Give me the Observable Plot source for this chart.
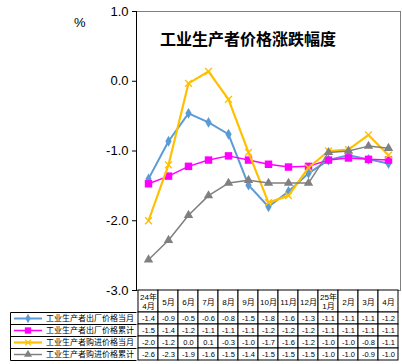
<!DOCTYPE html>
<html><head><meta charset="utf-8">
<script src="https://cdn.jsdelivr.net/npm/d3@7"></script>
<script src="https://cdn.jsdelivr.net/npm/@observablehq/plot@0.6"></script>
<style>
body{margin:0;background:#fff;}
#wrap{position:relative;width:402px;height:364px;overflow:hidden;background:#fff;font-family:"Liberation Sans",Arial,"Noto Sans CJK SC",sans-serif;}
#wrap > svg, #wrap > div{position:absolute;}
#title{left:160px;top:30px;font:bold 16px/16px "Noto Sans CJK SC",sans-serif;color:#000;white-space:nowrap;}
#pct{left:74px;top:16px;font:13px/13px "Liberation Sans",Arial,sans-serif;color:#000;}
</style></head><body><div id="wrap"></div>
<script>
// ---- data ----
const months = ["24年4月","5月","6月","7月","8月","9月","10月","11月","12月","25年1月","2月","3月","4月"];
const headerLabels = ["24年\n4月","5月","6月","7月","8月","9月","10月","11月","12月","25年\n1月","2月","3月","4月"];
const seriesNames = ["工业生产者出厂价格当月","工业生产者出厂价格累计","工业生产者购进价格当月","工业生产者购进价格累计"];
const ppiMonthly      = [-1.40,-0.86,-0.46,-0.59,-0.76,-1.49,-1.80,-1.58,-1.32,-1.13,-1.06,-1.12,-1.18];
const ppiCumulative   = [-1.47,-1.36,-1.22,-1.13,-1.07,-1.13,-1.19,-1.23,-1.22,-1.13,-1.10,-1.12,-1.13];
const ppirmMonthly    = [-2.00,-1.20,-0.03, 0.14,-0.26,-1.02,-1.74,-1.64,-1.24,-1.00,-0.98,-0.77,-1.06];
const ppirmCumulative = [-2.56,-2.28,-1.92,-1.64,-1.46,-1.42,-1.46,-1.46,-1.46,-1.02,-1.00,-0.93,-0.96];
const yTicks = [1,0,-1,-2,-3];
const titleText = "工业生产者价格涨跌幅度";
const unitText = "%";

// ---- styles ----
const colors = ["#5B9BD5","#FF00FF","#FFC000","#808080"];
const symbols = ["diamond","square","times","triangle"];
const widths = [2,1.5,2.2,1.5];
const radii = [3.3,4.2,3.2,3.5];

const values = [ppiMonthly, ppiCumulative, ppirmMonthly, ppirmCumulative];
const rows = seriesNames.flatMap((s,i)=>values[i].map((v,j)=>({series:s, idx:i, month:months[j], value:v})));
const fmt = v => { const s = v.toFixed(1); return s === "-0.0" ? "0.0" : s; };

const wrap = document.getElementById("wrap");

// ---- main chart ----
const seriesMarks = seriesNames.flatMap((s,i)=>{
  const d = rows.filter(r=>r.series===s);
  const sym = symbols[i];
  return [
    Plot.line(d,{x:"month",y:"value",stroke:colors[i],strokeWidth:widths[i]}),
    Plot.dot(d,{x:"month",y:"value",symbol:()=>sym,r:radii[i],
      fill: sym==="times" ? "none" : colors[i],
      stroke: colors[i], strokeWidth: sym==="times" ? 1.4 : 0})
  ];
});
const chart = Plot.plot({
  width:402, height:300, marginLeft:136, marginRight:2, marginTop:11, marginBottom:10,
  style:{fontFamily:"Liberation Sans, Arial, sans-serif", fontSize:"13px", background:"transparent", overflow:"visible", color:"#000"},
  x:{type:"point", domain:months, padding:0.5, axis:null},
  y:{domain:[-3,1], ticks:yTicks, tickFormat:d=>d.toFixed(1), tickSize:4, tickPadding:4, label:null},
  symbol:{type:"identity"},
  marks:[
    Plot.frame({stroke:"#808080"}),
    Plot.frame({anchor:"left", stroke:"#000"}),
    ...seriesMarks
  ]
});
chart.style.left="0px"; chart.style.top="0px";
wrap.appendChild(chart);

// ---- table header ----
const header = Plot.plot({
  width:266, height:23, marginLeft:0, marginRight:2, marginTop:0, marginBottom:1,
  style:{fontFamily:"Liberation Sans, Arial, Noto Sans CJK SC, sans-serif", fontSize:"8px", background:"transparent", overflow:"visible"},
  x:{type:"band", domain:months, padding:0, axis:null},
  marks:[
    Plot.cell(months,{x:d=>d, fill:"white", stroke:"#000"}),
    Plot.text(months,{x:d=>d, text:(d,i)=>headerLabels[i], frameAnchor:"middle", fontSize:8, lineHeight:1.2, fill:"#000"})
  ]
});
header.style.left="136px"; header.style.top="290px";
wrap.appendChild(header);

// ---- table body ----
const body = Plot.plot({
  width:402, height:49, marginLeft:136, marginRight:2, marginTop:0, marginBottom:1,
  style:{fontFamily:"Liberation Sans, Arial, sans-serif", fontSize:"7.5px", background:"transparent", overflow:"visible"},
  x:{type:"band", domain:months, padding:0, axis:null},
  y:{type:"band", domain:seriesNames, padding:0, axis:null},
  marks:[
    Plot.cell(rows,{x:"month", y:"series", fill:"white", stroke:"#000"}),
    Plot.text(rows,{x:"month", y:"series", text:d=>fmt(d.value), fontSize:7.5, fill:"#000"})
  ]
});
body.style.left="0px"; body.style.top="312px";
wrap.appendChild(body);

// ---- legend column ----
const lg = d3.create("svg").attr("width",127).attr("height",49)
  .style("left","10px").style("top","312px").style("overflow","visible");
seriesNames.forEach((s,i)=>{
  const y0 = 12*i + 0.5;
  lg.append("line").attr("x1",0.5).attr("x2",126.5).attr("y1",y0).attr("y2",y0).attr("stroke","#000");
  const cy = 12*i + 6.5;
  lg.append("line").attr("x1",4).attr("x2",32).attr("y1",cy).attr("y2",cy).attr("stroke",colors[i]).attr("stroke-width",widths[i]);
  const t = {diamond:d3.symbolDiamond, square:d3.symbolSquare, times:d3.symbolTimes, triangle:d3.symbolTriangle}[symbols[i]];
  const rr = radii[i]*0.85;
  lg.append("path").attr("d", d3.symbol(t, Math.PI*rr*rr)())
    .attr("transform",`translate(18,${cy})`)
    .attr("fill", symbols[i]==="times" ? "none" : colors[i])
    .attr("stroke", colors[i]).attr("stroke-width", symbols[i]==="times" ? 1.3 : 0);
  lg.append("text").attr("x",36).attr("y",cy).attr("dy","0.35em")
    .attr("font-family","Noto Sans CJK SC, sans-serif").attr("font-size",8).attr("fill","#000").text(s);
});
lg.append("line").attr("x1",0.5).attr("x2",126.5).attr("y1",48.5).attr("y2",48.5).attr("stroke","#000");
lg.append("line").attr("x1",0.5).attr("x2",0.5).attr("y1",0.5).attr("y2",48.5).attr("stroke","#000");
wrap.appendChild(lg.node());

// ---- title & unit ----
const title = document.createElement("div"); title.id="title"; title.textContent=titleText; wrap.appendChild(title);
const pct = document.createElement("div"); pct.id="pct"; pct.textContent=unitText; wrap.appendChild(pct);
</script></body></html>
